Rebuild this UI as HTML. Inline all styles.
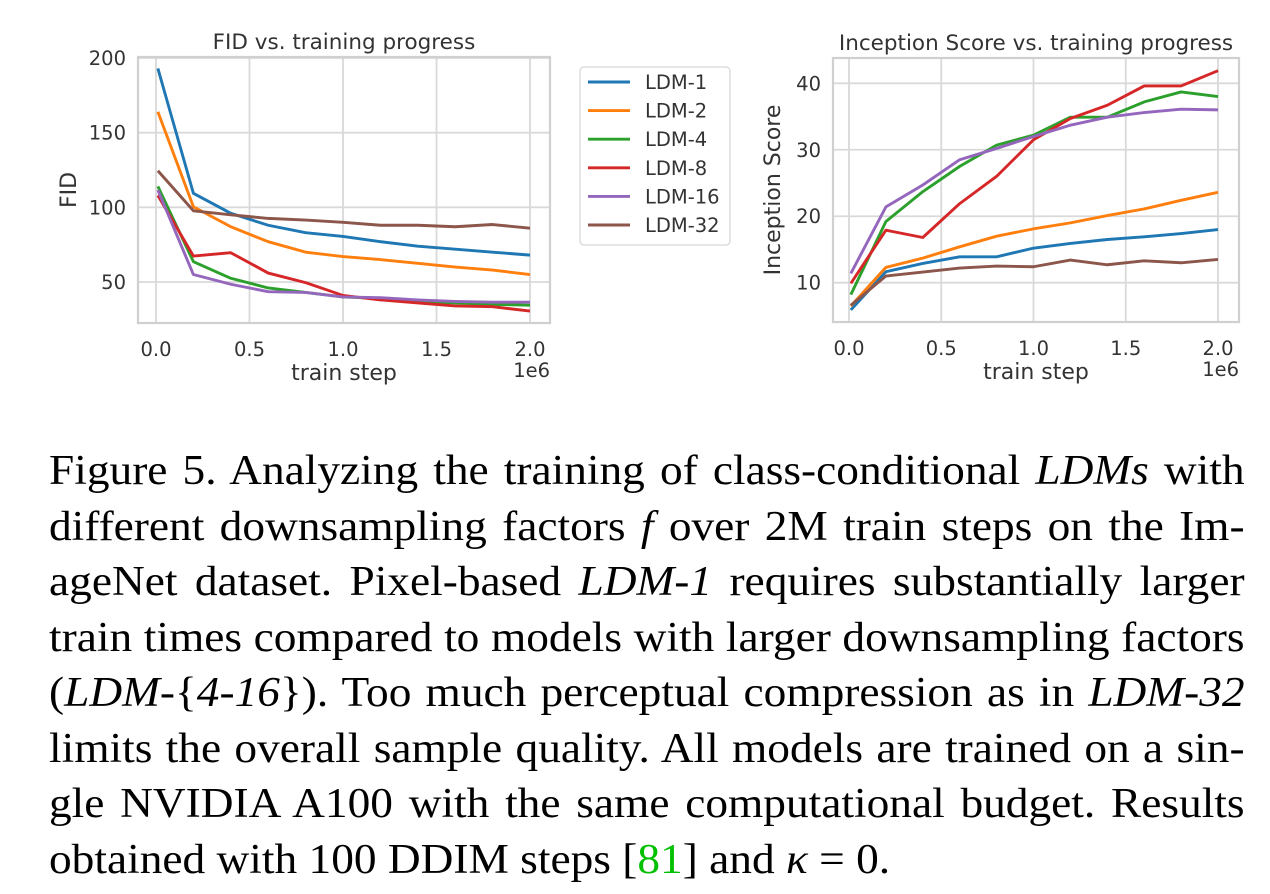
<!DOCTYPE html>
<html><head><meta charset="utf-8"><style>
body{margin:0;background:#fff;width:1270px;height:894px;overflow:hidden;position:relative}
svg{position:absolute;left:0;top:0}
.cap{position:absolute;left:49px;width:1107px;transform:scaleX(1.08);transform-origin:0 0;font-family:"Liberation Serif",serif;font-size:42px;color:#000;white-space:nowrap;text-align:justify;text-align-last:justify;line-height:1}
.cap.last{text-align-last:left}
</style></head><body>
<svg width="1270" height="420">
<g id="left"></g>
<g id="right"></g>
<g id="legend"></g>
</svg>
<div class="cap" style="top:450px">Figure 5. Analyzing the training of class-conditional <i>LDMs</i> with</div>
<div class="cap" style="top:506px">different downsampling factors <i>f</i> over 2M train steps on the Im-</div>
<div class="cap" style="top:561px">ageNet dataset. Pixel-based <i>LDM-1</i> requires substantially larger</div>
<div class="cap" style="top:617px">train times compared to models with larger downsampling factors</div>
<div class="cap" style="top:672px">(<i>LDM</i>-{<i>4-16</i>}). Too much perceptual compression as in <i>LDM-32</i></div>
<div class="cap" style="top:728px">limits the overall sample quality. All models are trained on a sin-</div>
<div class="cap" style="top:783px">gle NVIDIA A100 with the same computational budget. Results</div>
<div class="cap last" style="top:839px">obtained with 100 DDIM steps [<span style="color:#00c000">81</span>] and <i>κ</i> = 0.</div>
<script>
const steps=[0.01,0.2,0.4,0.6,0.8,1.0,1.2,1.4,1.6,1.8,2.0];
const seriesNames=["LDM-1","LDM-2","LDM-4","LDM-8","LDM-16","LDM-32"];
const colors=["#1f77b4","#ff7f0e","#2ca02c","#d62728","#9467bd","#8c564b"];
const fid1=[193,109.4,96,88,83,80.5,77,74,72,70,68];
const fid2=[164,100.4,87,77,70,67,65,62.5,60,58,55];
const fid4=[114,63.6,52.5,46,43,40,39,37,36,35,34.5];
const fid8=[108,67.4,69.6,56,49.6,41,38,36,34,33.5,30.5];
const fid16=[111.6,55,48.5,43.5,43,40,39.5,38,37,36.5,36.5];
const fid32=[124.5,97.7,95,92.6,91.5,90,88,88,87,88.5,86];
const is1=[5.9,11.65,12.9,13.9,13.9,15.2,15.9,16.5,16.9,17.4,18];
const is2=[6.5,12.3,13.7,15.4,17,18.1,19,20.1,21.1,22.4,23.6];
const is4=[8.2,19.2,23.7,27.5,30.7,32.2,34.9,34.9,37.2,38.7,38];
const is8=[9.9,17.9,16.8,21.9,26,31.5,34.7,36.7,39.6,39.6,41.9];
const is16=[11.4,21.4,24.7,28.5,30.2,32,33.7,34.9,35.6,36.1,36];
const is32=[6.6,11,11.6,12.2,12.5,12.4,13.4,12.7,13.3,13,13.5];
const xTicks=[0,0.5,1.0,1.5,2.0];
const xTickLabels=["0.0","0.5","1.0","1.5","2.0"];
const fidTicks=[50,100,150,200];
const isTicks=[10,20,30,40];
const NS="http://www.w3.org/2000/svg";
function mk(tag,attrs,parent){const e=document.createElementNS(NS,tag);for(const k in attrs)e.setAttribute(k,attrs[k]);parent.appendChild(e);return e;}
const FONT='"DejaVu Sans","Liberation Sans",sans-serif';
function chart(g,cfg,series){
  const sx=v=>cfg.x0+(v)*(cfg.x2-cfg.x0)/2;
  const sy=v=>cfg.ya+(v-cfg.va)*(cfg.yb-cfg.ya)/(cfg.vb-cfg.va);
  xTicks.forEach((t,i)=>{
    const l=mk('line',{x1:sx(t),x2:sx(t),y1:cfg.top,y2:cfg.bot,stroke:'#d9d9d9','stroke-width':1.8},g);
    
    const tx=mk('text',{x:sx(t),y:cfg.bot+33,'text-anchor':'middle','font-size':19.5,fill:'#333','font-family':FONT},g);
    tx.textContent=xTickLabels[i];
    
  });
  cfg.yt.forEach(t=>{
    const l=mk('line',{x1:cfg.left,x2:cfg.right,y1:sy(t),y2:sy(t),stroke:'#d9d9d9','stroke-width':1.8},g);
    
    const tx=mk('text',{x:cfg.left-12,y:sy(t)+7,'text-anchor':'end','font-size':19.5,fill:'#333','font-family':FONT},g);
    tx.textContent=String(t);
    
  });
  const fr=mk('rect',{x:cfg.left,y:cfg.top,width:cfg.right-cfg.left,height:cfg.bot-cfg.top,fill:'none',stroke:'#d0d0d0','stroke-width':2.2},g);
  
  series.forEach((s,i)=>{
    const p=mk('polyline',{points:steps.map((x,j)=>sx(x)+','+sy(s[j])).join(' '),fill:'none',stroke:colors[i],'stroke-width':2.9,'stroke-linejoin':'round'},g);
    
  });
  let t=mk('text',{x:(cfg.left+cfg.right)/2,y:cfg.top-8,'text-anchor':'middle','font-size':21.5,fill:'#333','font-family':FONT},g);
  t.textContent=cfg.title;
  t=mk('text',{x:(cfg.left+cfg.right)/2,y:cfg.bot+57,'text-anchor':'middle','font-size':22,fill:'#333','font-family':FONT},g);
  t.textContent='train step';
  t=mk('text',{x:cfg.right,y:cfg.bot+54,'text-anchor':'end','font-size':19.5,fill:'#333','font-family':FONT},g);
  t.textContent='1e6';
  const cy=(cfg.top+cfg.bot)/2;
  t=mk('text',{x:cfg.ylx,y:cy,'text-anchor':'middle','font-size':22,fill:'#333','font-family':FONT,transform:`rotate(-90 ${cfg.ylx} ${cy})`},g);
  t.textContent=cfg.ylabel;
}
chart(document.getElementById('left'),{x0:156,x2:530,left:138,right:550,top:57,bot:323,ya:58,va:200,yb:282,vb:50,yt:fidTicks,title:'FID vs. training progress',ylabel:'FID',ylx:76},[fid1,fid2,fid4,fid8,fid16,fid32]);
chart(document.getElementById('right'),{x0:849,x2:1218,left:833,right:1239,top:58,bot:322,ya:83.3,va:40,yb:282.7,vb:10,yt:isTicks,title:'Inception Score vs. training progress',ylabel:'Inception Score',ylx:780},[is1,is2,is4,is8,is16,is32]);
const lg=document.getElementById('legend');
const box=mk('rect',{x:580,y:67,width:150,height:178,rx:4,fill:'#fff',stroke:'#ddd','stroke-width':1.5},lg);

seriesNames.forEach((n,i)=>{
  const y=82+i*28.6;
  const l=mk('line',{x1:588,x2:630,y1:y,y2:y,stroke:colors[i],'stroke-width':2.9},lg);
  
  const t=mk('text',{x:645,y:y+7,'font-size':19.5,fill:'#333','font-family':FONT},lg);
  t.textContent=n;
});
</script>
</body></html>
